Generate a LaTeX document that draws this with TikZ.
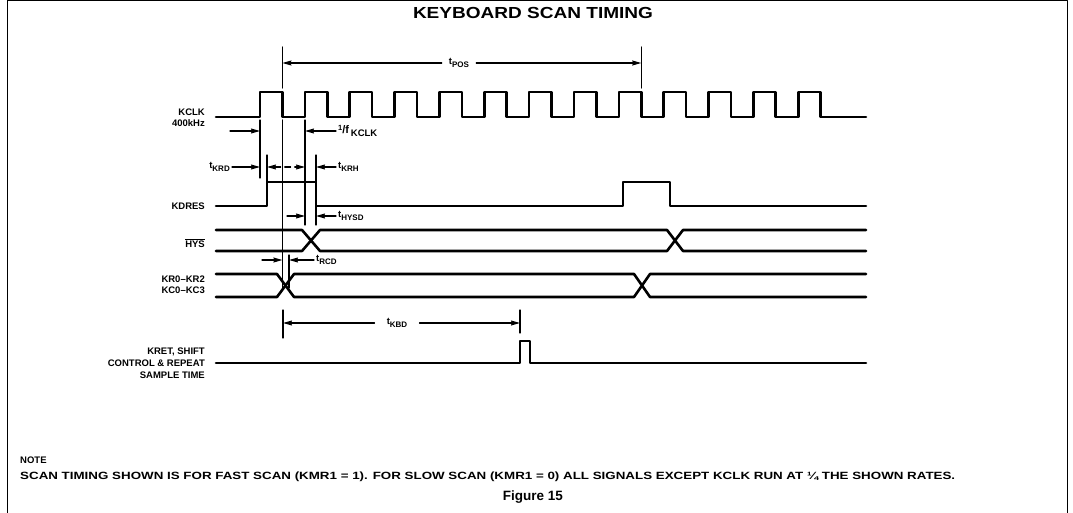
\documentclass[tikz,border=0pt]{standalone}
\usepackage{fontspec}
\setmainfont{Liberation Sans}
\usetikzlibrary{arrows.meta}
% t with a lowered index, as in t_KRD
\newcommand{\tsub}[1]{t\raisebox{-0.5ex}{\fontsize{8}{8}\selectfont#1}}
\begin{document}
\begin{tikzpicture}[x=1pt,y=-1pt,line join=round,line cap=round,
		>={Stealth[length=9pt,width=5pt,inset=1pt]},
		font=\bfseries\fontsize{9.5}{11}\selectfont,
		sig/.style={line width=2.6pt},
		dim/.style={line width=1.1pt},
		lbl/.style={anchor=east,align=right,inner sep=0pt}]
	\useasboundingbox (0,0) rectangle (1073,513);
	\draw[line width=1pt] (7,513) -- (7,1) -- (1067,1) -- (1067,513);
	\node (title) at (533,13) {\resizebox{240pt}{\height}{\fontsize{16}{18}\selectfont KEYBOARD SCAN TIMING}};
	% signal names
	\node[lbl] (kclk) at (205,118) {KCLK\\400kHz};
	\node[lbl] (kdres) at (205,206) {KDRES};
	\node[lbl] (hys) at (205,243) {$\overline{\mbox{HYS}}$};
	\node[lbl] (kr) at (205,284.5) {KR0--KR2\\KC0--KC3};
	\node[lbl] (kret) at (205,363) {KRET, SHIFT\\[1pt]CONTROL \& REPEAT\\[1pt]SAMPLE TIME};
	% edges used by the timings
	\coordinate (r0) at (260,131);
	\coordinate (f0) at (282.4,63);
	\coordinate (f8) at (641.2,63);
	\coordinate (r1) at (305,131);
	\coordinate (up) at (267,167);
	\coordinate (dn) at (316,167);
	\coordinate (kbdL) at (283,323);
	\coordinate (kbdR) at (520,323);
	% reference lines
	\draw[dim] (282.4,47) -- (282.4,88) (641.2,47) -- (641.2,88);
	\draw[dim] (260,120) -- (260,178);
	\draw[dim] (282.4,120) -- (282.4,290);
	\draw[dim] (305,120) -- (305,225);
	\draw[dim] (267,155) -- (267,182);
	\draw[dim] (316,155) -- (316,225);
	\draw[dim] (289,255) -- (289,288);
	\draw[dim] (283,310) -- (283,338) (520,310) -- (520,333);
	% tPOS
	\node[inner xsep=7pt] (tpos) at (459,63) {\tsub{POS}};
	\draw[dim,->] (tpos.west) -- (f0);
	\draw[dim,->] (tpos.east) -- (f8);
	% 1/f KCLK
	\draw[dim,->] (230,131) -- (r0);
	\node[anchor=west,inner sep=2pt] (fk) at (336,131) {\raisebox{0.7ex}{\fontsize{7.5}{7}\selectfont 1}\fontsize{11}{11}\selectfont/f\,\raisebox{-0.45ex}{\fontsize{9.5}{8}\selectfont KCLK}};
	\draw[dim,->] (fk.west) -- (r1);
	% tKRD, tKRH
	\node[anchor=east,inner sep=2pt] (tkrd) at (232,167) {\tsub{KRD}};
	\draw[dim,->] (tkrd.east) -- (260,167);
	\draw[dim,<->,dash pattern=on 6pt off 4pt] (up) -- (305,167);
	\node[anchor=west,inner sep=2pt] (tkrh) at (336,167) {\tsub{KRH}};
	\draw[dim,->] (tkrh.west) -- (dn);
	% tHYSD
	\draw[dim,->] (287,216) -- (305,216);
	\node[anchor=west,inner sep=2pt] (thysd) at (336,216) {\tsub{HYSD}};
	\draw[dim,->] (thysd.west) -- (316,216);
	% tRCD
	\draw[dim,->] (262,260) -- (282.4,260);
	\node[anchor=west,inner sep=2pt] (trcd) at (314,260) {\tsub{RCD}};
	\draw[dim,->] (trcd.west) -- (289,260);
	% tKBD
	\node[inner xsep=12pt] (tkbd) at (397,323) {\tsub{KBD}};
	\draw[dim,->] (tkbd.west) -- (kbdL);
	\draw[dim,->] (tkbd.east) -- (kbdR);
	% waveforms
	\draw[sig] (216,117) \foreach \k in {0,...,12}{ -- ({260+44.85*\k},117) -- ({260+44.85*\k},92) -- ({282.4+44.85*\k},92) -- ({282.4+44.85*\k},117)} -- (866,117);
	\draw[sig] (216,206) -- (267,206) -- (267,182) -- (316,182) -- (316,206) -- (623,206) -- (623,182) -- (670,182) -- (670,206) -- (866,206);
	\draw[sig] (216,230) -- (302,230) -- (320,251) -- (667,251) -- (683,230) -- (866,230);
	\draw[sig] (216,251) -- (302,251) -- (320,230) -- (667,230) -- (683,251) -- (866,251);
	\draw[sig] (216,274) -- (277,274) -- (294,297) -- (634,297) -- (650,274) -- (866,274);
	\draw[sig] (216,297) -- (277,297) -- (294,274) -- (634,274) -- (650,297) -- (866,297);
	\draw[sig] (216,363) -- (520,363) -- (520,341) -- (530,341) -- (530,363) -- (866,363);
	% note
	\node[anchor=west,inner sep=0pt] (note) at (20,460) {NOTE};
	\node[anchor=west,inner sep=0pt] (notetext) at (20,477) {\resizebox{935pt}{\height}{\fontsize{10.5}{12}\selectfont SCAN TIMING SHOWN IS FOR FAST SCAN (KMR1 = 1). FOR SLOW SCAN (KMR1 = 0) ALL SIGNALS EXCEPT KCLK RUN AT ¼ THE SHOWN RATES.}};
	\node (fig) at (533,497) {\fontsize{13.5}{15}\selectfont Figure 15};
\end{tikzpicture}
\end{document}
